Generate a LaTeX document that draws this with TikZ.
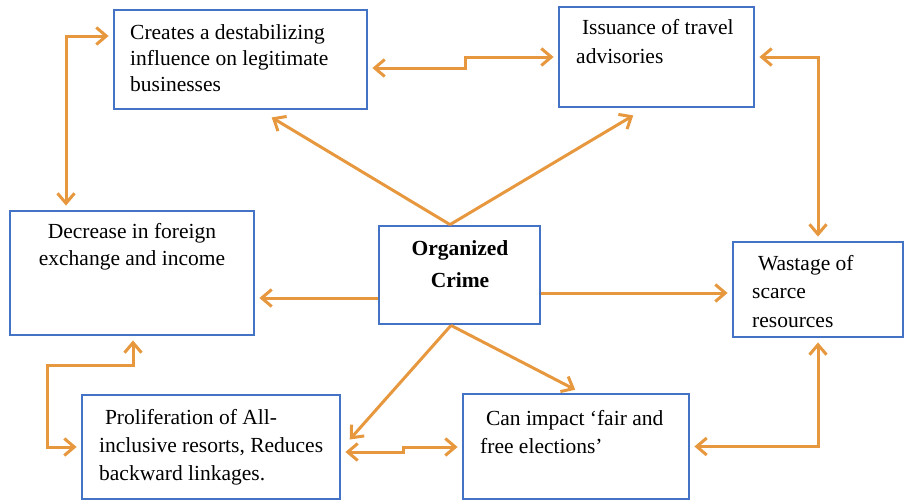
\documentclass[tikz,border=0pt]{standalone}
\usepackage{fontspec}
\setmainfont{Liberation Serif}
\usetikzlibrary{arrows.meta,calc}
\definecolor{linkorange}{RGB}{231,152,62}
\definecolor{boxblue}{RGB}{68,114,196}
\begin{document}
\begin{tikzpicture}[x=1pt,y=-1pt,
  >={Straight Barb[length=10pt,width=17pt]},
  box/.style={draw=boxblue, line width=2.8pt, rectangle, inner sep=0pt},
  txt/.style={inner sep=0pt, align=left, anchor=base west},
  link/.style={draw=linkorange, line width=3pt, ->, shorten >=4pt},
  both/.style={draw=linkorange, line width=3pt, <->, shorten >=4pt, shorten <=4pt},
]
\useasboundingbox (0,0) rectangle (905,501);

% boxes
\node[box, minimum width=253pt, minimum height=99pt]  (b1) at (240.5,59.5) {};
\node[box, minimum width=195pt, minimum height=100pt] (b2) at (656.5,57) {};
\node[box, minimum width=244pt, minimum height=124pt] (b3) at (132,273) {};
\node[box, minimum width=161pt, minimum height=98pt]  (b4) at (459.5,275) {};
\node[box, minimum width=170pt, minimum height=95pt]  (b5) at (818,289.5) {};
\node[box, minimum width=258pt, minimum height=104pt] (b6) at (211,447) {};
\node[box, minimum width=226pt, minimum height=105pt] (b7) at (576,446.5) {};

% texts (each placed by the baseline of its last line)
\node[txt, font=\fontsize{21.5}{26}\selectfont] (t1) at (130,91)
  {Creates a destabilizing\\influence on legitimate\\businesses};
\node[txt, font=\fontsize{21.5}{29}\selectfont] (t2) at (576,63)
  {\hspace*{0.27em}Issuance of travel\\advisories};
\node[txt, align=center, anchor=base, font=\fontsize{21.5}{27}\selectfont] (t3) at (132,265)
  {Decrease in foreign\\exchange and income};
\node[txt, align=center, anchor=base, font=\fontsize{21.5}{32}\selectfont\bfseries] (t4) at (460,287)
  {Organized\\Crime};
\node[txt, font=\fontsize{21.5}{28.5}\selectfont] (t5) at (752,327)
  {\hspace*{0.27em}Wastage of\\scarce\\resources};
\node[txt, font=\fontsize{21.5}{28}\selectfont] (t6) at (99,480)
  {\hspace*{0.27em}Proliferation of All-\\inclusive resorts, Reduces\\backward linkages.};
\node[txt, font=\fontsize{21.5}{28}\selectfont] (t7) at (480,453)
  {\hspace*{0.27em}Can impact ‘fair and\\free elections’};

% bend points of the elbow connectors
\coordinate (k1) at (66,36);
\coordinate (j1) at (465,68);
\coordinate (j2) at (465,57);
\coordinate (k2) at (133,365);
\coordinate (k3) at (47,447);
\coordinate (j3) at (403,452);
\coordinate (j4) at (403,447);
\coordinate (h1) at (0,298);
\coordinate (h2) at (0,293);
\coordinate (o1) at ([xshift=-9.5pt]b4.north);
\coordinate (o2) at ([xshift=-8.5pt]b4.south);

% two-way links
\draw[both] (b3.north -| k1) |- (b1.west |- k1);
\draw[both] (b1.east |- j1) -- (j1) -- (j2) -- (b2.west |- j2);
\draw[both] (b2.east) -| (b5.north);
\draw[both] (b3.south -| k2) -- (k2) -| (k3) -- (b6.west |- k3);
\draw[both] (b6.east |- j3) -- (j3) -- (j4) -- (b7.west |- j4);
\draw[both] (b7.east) -| (b5.south);

% links out of the centre
\draw[link, shorten >=2pt] (o1) -- ([xshift=29.5pt,yshift=-6pt]b1.south);
\draw[link, shorten >=2pt] (o1) -- ([xshift=-21.5pt,yshift=-6pt]b2.south);
\draw[link] (b4.west |- h1) -- (b3.east |- h1);
\draw[link] (b4.east |- h2) -- (b5.west |- h2);
\draw[link, shorten >=2pt] (o2) -- ([xshift=7pt,yshift=6pt]b6.east);
\draw[link, shorten >=2pt] (o2) -- ([xshift=1pt,yshift=2pt]b7.north);
\end{tikzpicture}
\end{document}
